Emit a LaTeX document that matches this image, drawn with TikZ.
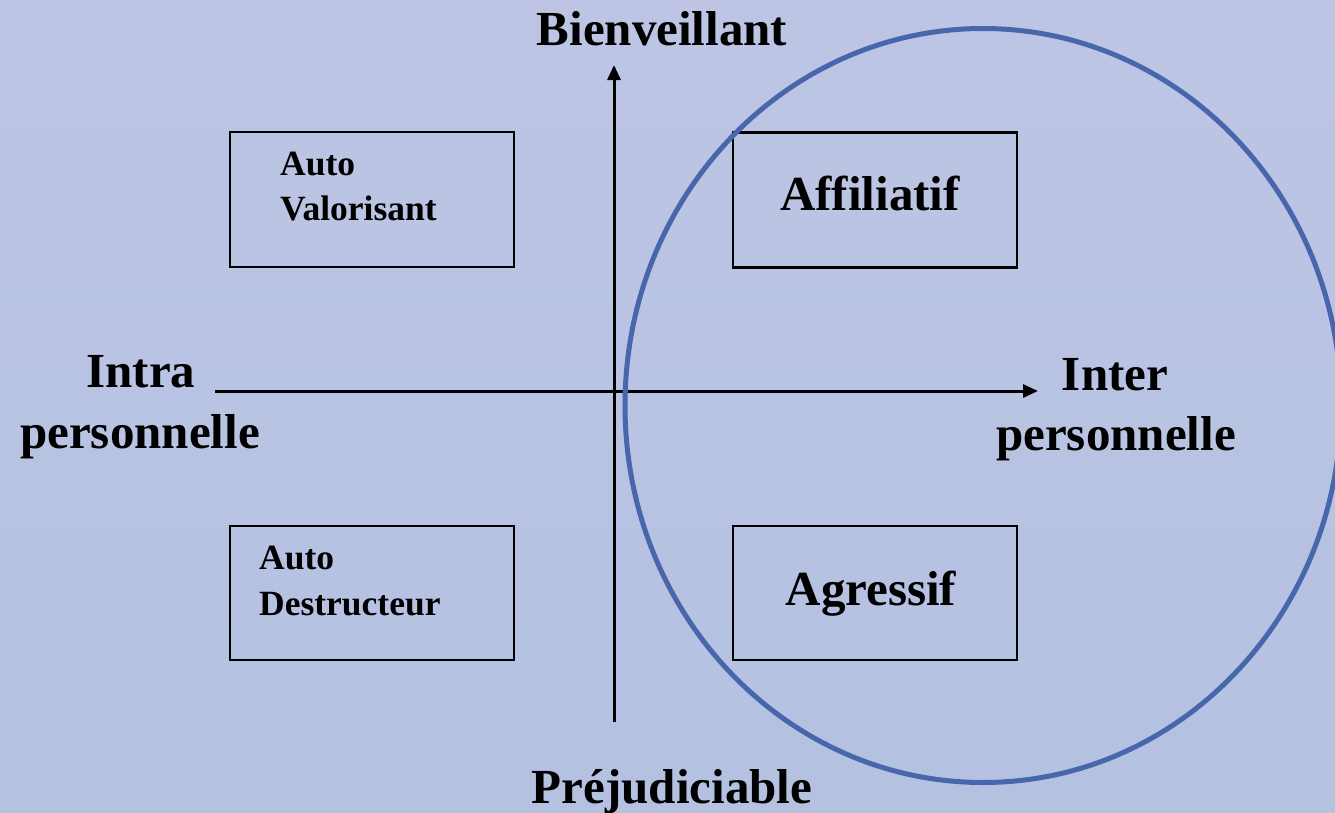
\documentclass[tikz,border=0pt]{standalone}
\usepackage{fontspec}
\setmainfont{Liberation Serif}
\usetikzlibrary{arrows.meta,shapes.geometric}
\definecolor{bgtop}{RGB}{190,197,228}
\definecolor{bgbot}{RGB}{180,193,225}
\definecolor{ringblue}{RGB}{72,102,172}
\tikzset{
  axis/.style={line width=3pt, -{Triangle[length=15pt,width=13pt]}},
  quadbox/.style={draw=black, line width=2.5pt, rectangle, inner sep=0pt},
  biglabel/.style={inner sep=0pt, font=\bfseries\fontsize{49}{58}\selectfont},
  smalllabel/.style={inner sep=0pt, font=\bfseries\fontsize{35.5}{45}\selectfont},
  ring/.style={draw=ringblue, line width=5pt}
}
\begin{document}
\begin{tikzpicture}[x=1pt,y=-1pt]
\useasboundingbox (0,0) rectangle (1335,812);
\shade[top color=bgtop, bottom color=bgbot] (0,0) rectangle (1335,812);
\clip (0,0) rectangle (1335,812);

% axes
\coordinate (vbot) at (614,722);
\coordinate (vtop) at (614,65);
\coordinate (hleft) at (215,391);
\coordinate (hright) at (1038,391);
\draw[axis] (vbot) -- (vtop);
\draw[axis] (hleft) -- (hright);

% axis labels
\node[biglabel, anchor=base] (bien) at (662,45) {Bienveillant};
\node[biglabel, anchor=base] (prej) at (672,803) {Préjudiciable};
\node[biglabel, anchor=base] (intra) at (141,387) {Intra};
\node[biglabel, anchor=base] (intrap) at (140,448) {personnelle};
\node[biglabel, anchor=base] (inter) at (1115,390) {Inter};
\node[biglabel, anchor=base] (interp) at (1116,450) {personnelle};

% boxes
\node[quadbox, minimum width=284pt, minimum height=135pt] (bAV) at (372,199.5) {};
\node[quadbox, minimum width=284pt, minimum height=135pt] (bAF) at (875,200) {};
\node[quadbox, minimum width=284pt, minimum height=134pt] (bAD) at (372,593) {};
\node[quadbox, minimum width=284pt, minimum height=134pt] (bAG) at (875,593) {};

% box texts
\node[smalllabel, anchor=base west] (av1) at (280,175) {Auto};
\node[smalllabel, anchor=base west] (av2) at (280,220) {Valorisant};
\node[biglabel, anchor=base] (af) at (870,210) {Affiliatif};
\node[smalllabel, anchor=base west] (ad1) at (259,569) {Auto};
\node[smalllabel, anchor=base west] (ad2) at (259,615) {Destructeur};
\node[biglabel, anchor=base] (ag) at (871,605) {Agressif};

% ellipse
\node[ring, ellipse, minimum width=716pt, minimum height=754pt, inner sep=0pt] (circ) at (983,405.5) {};
\end{tikzpicture}
\end{document}
